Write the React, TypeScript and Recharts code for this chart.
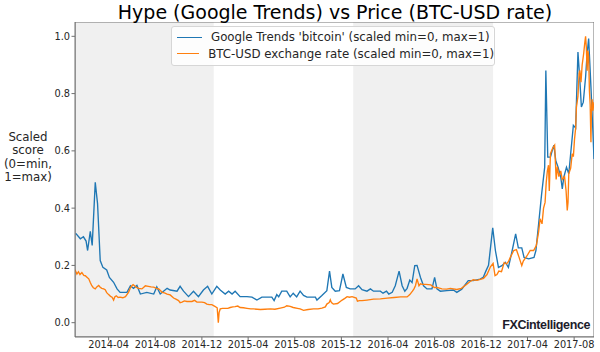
import React from 'react';
import { LineChart, Line, XAxis, YAxis, ReferenceArea, Legend } from 'recharts';

const trendName = "Google Trends 'bitcoin' (scaled min=0, max=1)";
const priceName = 'BTC-USD exchange rate (scaled min=0, max=1)';

const trendDates = [
  '2014-01-05','2014-01-17','2014-01-25','2014-02-01','2014-02-05','2014-02-12','2014-02-17','2014-02-25','2014-03-03','2014-03-10',
  '2014-03-17','2014-03-27','2014-04-03','2014-04-14','2014-04-23','2014-05-01','2014-05-19','2014-05-28','2014-06-05','2014-06-14',
  '2014-06-23','2014-07-10','2014-07-28','2014-08-05','2014-08-14','2014-09-01','2014-09-09','2014-09-27','2014-10-05','2014-10-14',
  '2014-10-27','2014-11-09','2014-11-22','2014-12-05','2014-12-16','2014-12-27','2015-01-09','2015-01-18','2015-01-31','2015-02-09',
  '2015-02-18','2015-02-26','2015-03-11','2015-03-29','2015-04-11','2015-04-24','2015-05-07','2015-06-02','2015-06-08','2015-06-15',
  '2015-06-20','2015-06-28','2015-07-11','2015-07-20','2015-07-28','2015-08-06','2015-08-15','2015-08-24','2015-09-02','2015-09-24',
  '2015-09-28','2015-10-11','2015-10-24','2015-10-31','2015-11-06','2015-11-15','2015-11-26','2015-12-05','2015-12-14','2015-12-24',
  '2016-01-06','2016-01-15','2016-01-24','2016-02-06','2016-02-15','2016-02-23','2016-03-12','2016-03-19','2016-03-28','2016-04-03',
  '2016-04-12','2016-04-20','2016-04-30','2016-05-08','2016-05-15','2016-05-21','2016-05-28','2016-06-03','2016-06-10','2016-06-16',
  '2016-06-25','2016-07-03','2016-07-12','2016-07-25','2016-08-01','2016-08-07','2016-08-16','2016-09-02','2016-09-19','2016-09-28',
  '2016-10-11','2016-10-28','2016-11-10','2016-11-28','2016-12-06','2016-12-13','2016-12-20','2016-12-31','2017-01-07','2017-01-15',
  '2017-01-24','2017-02-02','2017-02-10','2017-02-19','2017-03-01','2017-03-08','2017-03-17','2017-03-23','2017-04-04','2017-04-18',
  '2017-04-23','2017-05-01','2017-05-08','2017-05-16','2017-05-19','2017-05-24','2017-05-31','2017-06-06','2017-06-09','2017-06-14',
  '2017-06-20','2017-06-27','2017-07-01','2017-07-05','2017-07-12','2017-07-18','2017-07-30','2017-08-05','2017-08-11','2017-08-16',
  '2017-08-20','2017-08-25','2017-08-31','2017-09-04','2017-09-08','2017-09-14','2017-09-19','2017-09-22',
];
const trendValues = [
  0.312,0.293,0.30,0.285,0.252,0.319,0.27,0.49,0.416,0.217,
  0.193,0.184,0.158,0.141,0.118,0.106,0.106,0.129,0.12,0.13,
  0.10,0.106,0.10,0.125,0.10,0.12,0.114,0.11,0.127,0.11,
  0.091,0.11,0.091,0.114,0.127,0.10,0.127,0.114,0.10,0.11,
  0.10,0.11,0.091,0.091,0.089,0.079,0.089,0.089,0.077,0.098,
  0.09,0.11,0.11,0.09,0.103,0.09,0.11,0.095,0.089,0.089,
  0.079,0.095,0.112,0.18,0.123,0.11,0.112,0.17,0.123,0.118,
  0.118,0.129,0.115,0.11,0.118,0.11,0.11,0.103,0.11,0.10,
  0.106,0.129,0.18,0.129,0.11,0.12,0.149,0.14,0.199,0.2,
  0.158,0.129,0.118,0.118,0.158,0.118,0.11,0.112,0.114,0.106,
  0.117,0.147,0.147,0.152,0.158,0.18,0.2,0.331,0.252,0.193,
  0.199,0.211,0.193,0.246,0.31,0.261,0.261,0.228,0.223,0.228,
  0.252,0.357,0.45,0.543,0.881,0.578,0.578,0.607,0.62,0.566,
  0.543,0.508,0.467,0.508,0.543,0.52,0.689,0.68,0.945,0.846,
  0.753,0.77,0.858,0.94,0.992,0.823,0.671,0.572,
];

const priceDates = [
  '2014-01-03','2014-01-08','2014-01-12','2014-01-16','2014-01-21','2014-01-26','2014-01-30','2014-02-04','2014-02-08','2014-02-12',
  '2014-02-16','2014-02-20','2014-02-25','2014-03-01','2014-03-06','2014-03-10','2014-03-14','2014-03-19','2014-03-23','2014-03-27',
  '2014-04-01','2014-04-06','2014-04-10','2014-04-14','2014-04-17','2014-04-21','2014-04-26','2014-05-01','2014-05-08','2014-05-15',
  '2014-05-23','2014-05-28','2014-06-01','2014-06-04','2014-06-07','2014-06-12','2014-06-18','2014-06-27','2014-07-02','2014-07-06',
  '2014-07-14','2014-07-21','2014-07-28','2014-08-04','2014-08-10','2014-08-19','2014-08-25','2014-09-01','2014-09-09','2014-09-18',
  '2014-09-24','2014-10-01','2014-10-05','2014-10-10','2014-10-16','2014-10-23','2014-11-05','2014-11-12','2014-11-18','2014-12-01',
  '2014-12-08','2014-12-14','2014-12-20','2014-12-27','2015-01-04','2015-01-10','2015-01-13','2015-01-15','2015-01-18','2015-01-24',
  '2015-01-31','2015-02-07','2015-02-13','2015-02-20','2015-02-26','2015-03-05','2015-03-11','2015-03-20','2015-03-29','2015-04-08',
  '2015-04-15','2015-05-03','2015-05-15','2015-05-29','2015-06-10','2015-06-24','2015-07-05','2015-07-11','2015-07-20','2015-07-28',
  '2015-08-08','2015-08-15','2015-08-24','2015-09-05','2015-09-19','2015-10-01','2015-10-11','2015-10-20','2015-10-24','2015-10-30',
  '2015-11-02','2015-11-05','2015-11-10','2015-11-21','2015-12-03','2015-12-10','2015-12-16','2015-12-22','2015-12-29','2016-01-09',
  '2016-01-12','2016-01-17','2016-01-24','2016-02-06','2016-02-23','2016-03-12','2016-03-30','2016-04-17','2016-05-04','2016-05-21',
  '2016-05-28','2016-06-04','2016-06-08','2016-06-12','2016-06-16','2016-06-21','2016-06-25','2016-06-30','2016-07-09','2016-07-22',
  '2016-07-31','2016-08-07','2016-08-20','2016-09-02','2016-09-11','2016-09-28','2016-10-10','2016-10-25','2016-11-01','2016-11-10',
  '2016-11-20','2016-12-07','2016-12-16','2016-12-25','2017-01-01','2017-01-06','2017-01-11','2017-01-16','2017-01-23','2017-01-30',
  '2017-02-05','2017-02-10','2017-02-15','2017-02-24','2017-03-03','2017-03-10','2017-03-17','2017-03-21','2017-03-30','2017-04-08',
  '2017-04-17','2017-04-24','2017-04-30','2017-05-04','2017-05-09','2017-05-13','2017-05-17','2017-05-20','2017-05-23','2017-05-26',
  '2017-05-28','2017-05-31','2017-06-06','2017-06-11','2017-06-15','2017-06-18','2017-06-22','2017-06-27','2017-07-01','2017-07-07',
  '2017-07-11','2017-07-14','2017-07-16','2017-07-18','2017-07-23','2017-07-27','2017-07-30','2017-08-02','2017-08-05','2017-08-07',
  '2017-08-11','2017-08-14','2017-08-16','2017-08-19','2017-08-22','2017-08-26','2017-08-29','2017-08-31','2017-09-02','2017-09-04',
  '2017-09-06','2017-09-08','2017-09-10','2017-09-12','2017-09-14','2017-09-15','2017-09-17','2017-09-19','2017-09-22',
];
const priceValues = [
  0.185,0.17,0.178,0.168,0.175,0.165,0.164,0.158,0.153,0.14,
  0.129,0.122,0.118,0.125,0.13,0.124,0.12,0.118,0.115,0.105,
  0.098,0.092,0.089,0.079,0.09,0.094,0.088,0.089,0.087,0.091,
  0.106,0.122,0.129,0.133,0.13,0.124,0.12,0.118,0.124,0.129,
  0.127,0.125,0.124,0.12,0.118,0.106,0.104,0.10,0.097,0.086,
  0.082,0.077,0.07,0.072,0.076,0.074,0.074,0.078,0.072,0.072,
  0.07,0.065,0.063,0.063,0.057,0.052,0.0,0.035,0.048,0.05,
  0.05,0.05,0.053,0.055,0.056,0.058,0.053,0.052,0.05,0.048,
  0.048,0.046,0.047,0.048,0.047,0.051,0.054,0.059,0.057,0.053,
  0.05,0.048,0.043,0.046,0.048,0.048,0.051,0.055,0.065,0.07,
  0.08,0.07,0.065,0.067,0.079,0.085,0.091,0.089,0.091,0.086,
  0.075,0.077,0.077,0.079,0.082,0.083,0.086,0.088,0.09,0.09,
  0.098,0.11,0.118,0.13,0.153,0.129,0.136,0.134,0.134,0.132,
  0.123,0.123,0.118,0.117,0.12,0.116,0.12,0.135,0.143,0.15,
  0.148,0.155,0.168,0.195,0.207,0.164,0.168,0.18,0.178,0.21,
  0.205,0.213,0.228,0.252,0.255,0.228,0.199,0.215,0.232,0.252,
  0.252,0.269,0.316,0.363,0.345,0.40,0.42,0.49,0.53,0.55,
  0.46,0.59,0.61,0.62,0.50,0.545,0.51,0.53,0.50,0.51,
  0.46,0.392,0.42,0.52,0.54,0.59,0.58,0.64,0.68,0.753,
  0.79,0.87,0.881,0.84,0.9,0.94,0.979,1.0,0.96,0.88,
  0.95,0.93,0.81,0.76,0.63,0.72,0.78,0.74,0.77,
];

const xTickDates = [
  '2014-04-01','2014-08-01','2014-12-01','2015-04-01','2015-08-01','2015-12-01',
  '2016-04-01','2016-08-01','2016-12-01','2017-04-01','2017-08-01',
];
const yTicks = [0, 0.2, 0.4, 0.6, 0.8, 1.0];
const xStart = '2014-01-03';
const xEnd = '2017-09-22';
const shadedStarts = ['2014-01-03', '2016-01-01'];
const shadedEnds = ['2015-01-01', '2017-01-01'];
const yLabelLines = ['Scaled', 'score', '(0=min,', '1=max)'];

const toTs = (s: string) => {
  const [y, m, d] = s.split('-').map(Number);
  return Date.UTC(y, m - 1, d);
};
const fmtTick = (t: number) => {
  const d = new Date(t);
  const m = d.getUTCMonth() + 1;
  return `${d.getUTCFullYear()}-${m < 10 ? '0' + m : m}`;
};

const trendData = trendDates.map((d, i) => ({ t: toTs(d), v: trendValues[i] }));
const priceData = priceDates.map((d, i) => ({ t: toTs(d), v: priceValues[i] }));

const FONT = '"DejaVu Sans", sans-serif';
const BLUE = '#1f77b4';
const ORANGE = '#ff7f0e';
const legendItems = [
  { name: trendName, color: BLUE },
  { name: priceName, color: ORANGE },
];

const renderLegend = () => (
  <div
    style={{
      background: 'rgba(255,255,255,0.85)',
      border: '1px solid #d6d6d6',
      borderRadius: 3,
      padding: '2px 0 3px 0',
      fontFamily: FONT,
      fontSize: 11.8,
      color: '#262626',
      boxSizing: 'border-box',
    }}
  >
    {legendItems.map((p) => (
      <div key={p.name} style={{ display: 'flex', alignItems: 'center', height: 16.5, whiteSpace: 'nowrap' }}>
        <span style={{ display: 'inline-block', width: 25, height: 0, borderTop: `1.5px solid ${p.color}`, marginLeft: 5, marginRight: 9 }} />
        <span>{p.name}</span>
      </div>
    ))}
  </div>
);

export default function App() {
  const x0 = toTs(xStart);
  const x1 = toTs(xEnd);
  return (
    <div style={{ position: 'absolute', left: 0, top: 0, width: 600, height: 352, fontFamily: FONT, background: '#fff' }}>
      <LineChart width={600} height={352} margin={{ top: 22, right: 6, bottom: 0, left: 0 }}>
        {shadedStarts.map((s, i) => (
          <ReferenceArea key={s} x1={toTs(s)} x2={toTs(shadedEnds[i])} fill="#f0f0f0" fillOpacity={1} stroke="none" ifOverflow="hidden" />
        ))}
        <XAxis
          dataKey="t"
          type="number"
          domain={[x0, x1]}
          allowDataOverflow
          ticks={xTickDates.map(toTs)}
          tickFormatter={fmtTick}
          height={15}
          tickSize={3.5}
          tickMargin={1}
          interval={0}
          axisLine={{ stroke: '#707070' }}
          tickLine={{ stroke: '#707070' }}
          tick={{ fontSize: 9.8, fill: '#262626', fontFamily: FONT }}
        />
        <YAxis
          type="number"
          domain={[-0.05, 1.05]}
          allowDataOverflow
          ticks={yTicks}
          tickFormatter={(v: number) => v.toFixed(1)}
          width={75}
          tickSize={3.5}
          tickMargin={1.5}
          interval={0}
          axisLine={{ stroke: '#707070' }}
          tickLine={{ stroke: '#707070' }}
          tick={{ fontSize: 9.8, fill: '#262626', fontFamily: FONT }}
        />
        <Line data={trendData} dataKey="v" name={trendName} stroke={BLUE} strokeWidth={1.35} dot={false} isAnimationActive={false} type="linear" />
        <Line data={priceData} dataKey="v" name={priceName} stroke={ORANGE} strokeWidth={1.35} dot={false} isAnimationActive={false} type="linear" />
        <ReferenceArea x1={x0} x2={x1} y1={-0.05} y2={1.05} fill="none" stroke="#707070" strokeWidth={1} ifOverflow="hidden" />
        <Legend
          layout="vertical"
          align="center"
          verticalAlign="middle"
          content={renderLegend}
          wrapperStyle={{ left: 171, top: 26, width: 324, height: 40 }}
        />
      </LineChart>
      <svg width={600} height={352} style={{ position: 'absolute', left: 0, top: 0, pointerEvents: 'none' }}>
        <text x={335} y={18.5} textAnchor="middle" fontSize={19} fill="#000" fontFamily={FONT}>
          Hype (Google Trends) vs Price (BTC-USD rate)
        </text>
        <text textAnchor="middle" fontSize={11.8} fill="#262626" fontFamily={FONT}>
          {yLabelLines.map((l, i) => (
            <tspan key={l} x={28} y={140.5 + i * 13.5}>{l}</tspan>
          ))}
        </text>
        <text x={590} y={329} textAnchor="end" fontFamily='"Liberation Sans", Arial, sans-serif' fill="#1c1c2b" fontSize={12.5} letterSpacing={-0.4}>
          <tspan fontWeight="bold">FXC</tspan>
          <tspan fontWeight="600">intelligence</tspan>
        </text>
      </svg>
    </div>
  );
}
